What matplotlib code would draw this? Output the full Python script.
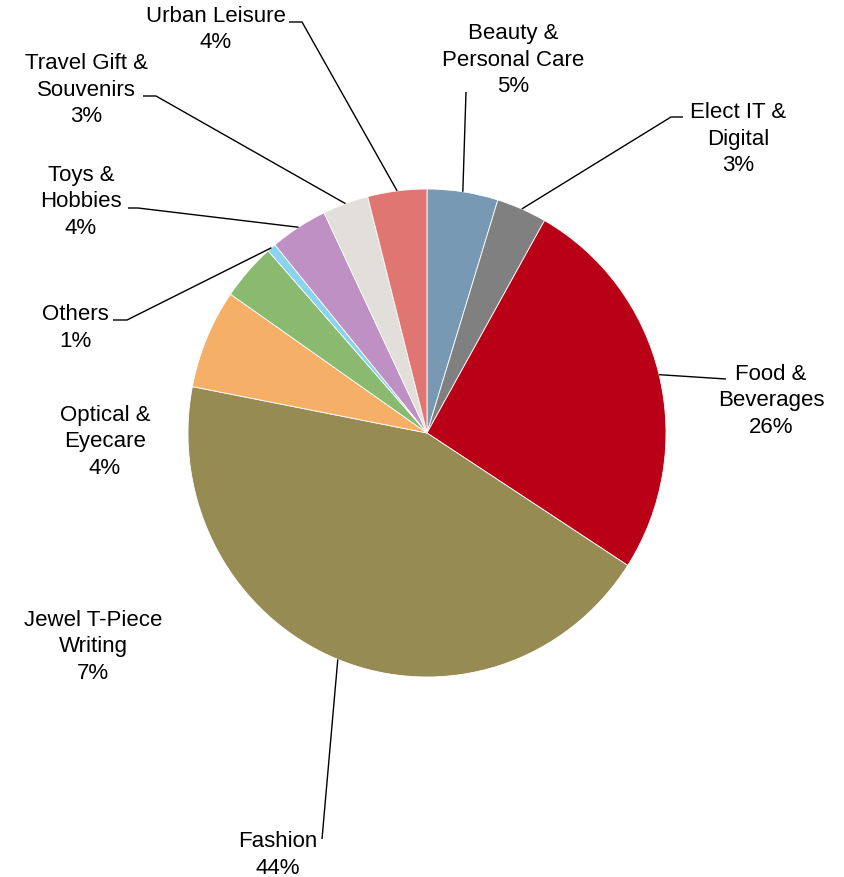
import numpy as np
import matplotlib
matplotlib.use('agg')
import matplotlib.pyplot as plt

plt.rcParams['font.family'] = ['Liberation Sans', 'DejaVu Sans']

# share of floor space by category, clockwise from 12 o'clock
names = ['Beauty &\nPersonal Care', 'Elect IT &\nDigital', 'Food &\nBeverages',
         'Fashion', 'Jewel T-Piece\nWriting', 'Optical &\nEyecare', 'Others',
         'Toys &\nHobbies', 'Travel Gift &\nSouvenirs', 'Urban Leisure']
values = [4.8, 3.4, 26.0, 44.0, 6.6, 3.8, 0.6, 3.9, 3.1, 4.0]
colours = ['#7799B4', '#808080', '#BA0016', '#968B53', '#F5AF66',
           '#89BA6F', '#8AD3EF', '#BF90C4', '#E2DFDB', '#E07672']

W, H = 844, 878
# pie box in pixels (left, top, right, bottom)
px0, py0, px1, py1 = 188, 190, 666, 678
cx, cy = (px0 + px1) / 2., (py0 + py1) / 2.
rx, ry = (px1 - px0) / 2., (py1 - py0) / 2.

# label text centres (pixels) and leader elbows, None where no leader
lab_pos = [(513, 60), (738, 139), (771, 401), (278, 855), (93, 647),
           (105, 442), (75, 328), (81, 202), (86, 90), (216, 29.5)]
elbows = [[(466, 93)],
          [(683, 118), (671, 118)],
          [(726, 380)],
          [(322, 840)],
          None,
          None,
          [(113, 321), (127, 321)],
          [(128, 209), (138, 209)],
          [(143, 97), (156, 97)],
          [(289, 23), (302, 23)]]

fig = plt.figure(figsize=(W / 100., H / 100.), dpi=100)
fig.patch.set_facecolor('white')

ax = fig.add_axes([px0 / W, 1 - py1 / H, (px1 - px0) / W, (py1 - py0) / H])
wedges, _ = ax.pie(values, colors=colours, startangle=90, counterclock=False,
                   radius=1.0, wedgeprops=dict(edgecolor='white', linewidth=0.6))
ax.set_aspect('auto')
ax.set_xlim(-1, 1)
ax.set_ylim(-1, 1)
ax.axis('off')

# overlay in pixel coordinates for labels and leader lines
ov = fig.add_axes([0, 0, 1, 1], facecolor='none')
ov.set_xlim(0, W)
ov.set_ylim(H, 0)
ov.axis('off')

total = float(sum(values))
for w, name, v, pos, elb in zip(wedges, names, values, lab_pos, elbows):
    pct = int(np.floor(v / total * 100 + 0.5))
    ov.text(pos[0], pos[1], '%s\n%d%%' % (name, pct), ha='center', va='center',
            fontsize=16, linespacing=1.32, color='black')
    if elb is None:
        continue
    mid = np.deg2rad((w.theta1 + w.theta2) / 2.)
    ex = cx + rx * np.cos(mid)
    ey = cy - ry * np.sin(mid)
    xs = [p[0] for p in elb] + [ex]
    ys = [p[1] for p in elb] + [ey]
    ov.plot(xs, ys, color='black', lw=1.0, solid_capstyle='butt')

plt.savefig('out.png', dpi=100)
plt.close()
